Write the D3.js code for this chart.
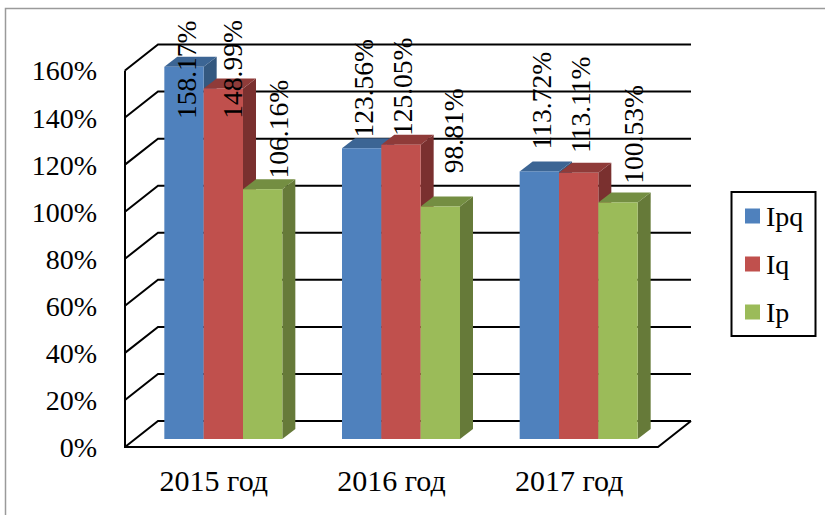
<!DOCTYPE html>
<html>
<head>
<meta charset="utf-8">
<script src="https://cdnjs.cloudflare.com/ajax/libs/d3/7.8.5/d3.min.js"></script>
<style>
html, body { margin: 0; padding: 0; background: #fff; }
svg { display: block; }
text { font-family: "Liberation Serif", serif; fill: #000; }
</style>
</head>
<body>
<svg id="chart" width="825" height="515"></svg>
<script>
// data
var categories = ["2015 год", "2016 год", "2017 год"];
var seriesNames = ["Ipq", "Iq", "Ip"];
var ipq = [158.17, 123.56, 113.72];
var iq = [148.99, 125.05, 113.11];
var ip = [106.16, 98.81, 100.53];
var yTicks = [0, 20, 40, 60, 80, 100, 120, 140, 160];

var seriesValues = [ipq, iq, ip];
var faceColors = ["#4f81bd", "#c0504d", "#9bbb59"];
var topColors = ["#3c6594", "#8f3b39", "#748e42"];
var sideColors = ["#34587f", "#7a302f", "#667a39"];

// the labels were dragged by hand in the original, per series then per category
var labelShiftX = [[11.7, 11, 11.3], [18.4, 10.7, 11], [25, 22.3, 24.7]];
var labelRaise = [[-3, 60, 70.7], [19, 58, 68], [60, 75.7, 68]];

var svg = d3.select("#chart");

// front plane of the 3d box and how far the back wall is pushed
var wallDx = 33, wallDy = -26;
var barDx = 13, barDy = -10;
var barLift = 8;

var x0 = d3.scaleBand().domain(categories).range([125, 658]);
var x1 = d3.scaleBand().domain(seriesNames).range([-49.5, 68.5]);
var y = d3.scaleLinear().domain([0, 160]).range([447, 70.5]);

// outer frame
svg.append("path")
    .attr("d", "M5.5,515V8.5H825")
    .attr("fill", "none")
    .attr("stroke", "#9a9a9a")
    .attr("stroke-width", 1.5);

// grid on the walls
var grid = svg.append("g").attr("fill", "none").attr("stroke", "#000").attr("stroke-width", 2);
grid.selectAll("path.wall")
    .data(yTicks)
    .enter()
    .append("path")
    .attr("class", "wall")
    .attr("d", function(d) {
        var yy = y(d);
        return "M125," + yy + "L" + (125 + wallDx) + "," + (yy + wallDy) + "H" + (658 + wallDx);
    });
grid.append("path")
    .attr("d", "M125," + y(160) + "V" + y(0) + "H658L" + (658 + wallDx) + "," + (y(0) + wallDy));

// bars
var groups = svg.selectAll("g.cat")
    .data(categories)
    .enter()
    .append("g")
    .attr("class", "cat");

seriesNames.forEach(function(name, s) {
    groups.each(function(cat, c) {
        var g = d3.select(this);
        var v = seriesValues[s][c];
        var left = x0(cat) + x0.bandwidth() / 2 + x1(name);
        var w = x1.bandwidth();
        var top = y(v) - barLift;
        var base = y(0) - barLift;
        g.append("path")
            .attr("fill", sideColors[s])
            .attr("d", "M" + (left + w) + "," + top + "l" + barDx + "," + barDy + "V" + (base + barDy) + "l" + (-barDx) + "," + (-barDy) + "Z");
        g.append("path")
            .attr("fill", topColors[s])
            .attr("d", "M" + left + "," + top + "l" + barDx + "," + barDy + "h" + w + "l" + (-barDx) + "," + (-barDy) + "Z");
        g.append("rect")
            .attr("x", left)
            .attr("y", top)
            .attr("width", w)
            .attr("height", base - top)
            .attr("fill", faceColors[s]);
    });
});

// value labels, rotated
var labels = svg.append("g").attr("class", "labels");
seriesNames.forEach(function(name, s) {
    categories.forEach(function(cat, c) {
        var v = seriesValues[s][c];
        var left = x0(cat) + x0.bandwidth() / 2 + x1(name);
        var mid = y(v) - barLift - labelRaise[s][c];
        labels.append("text")
            .attr("transform", "translate(" + (left + x1.bandwidth() / 2 + labelShiftX[s][c]) + "," + mid + ") rotate(-90)")
            .attr("text-anchor", "middle")
            .attr("font-size", 27.5)
            .text(v.toFixed(2) + "%");
    });
});

// axes
var yAxis = svg.append("g")
    .attr("transform", "translate(97,0.5)")
    .call(d3.axisLeft(y).tickValues(yTicks).tickSize(0).tickPadding(0).tickFormat(function(d) { return d + "%"; }));
yAxis.select(".domain").remove();
yAxis.selectAll("text").attr("font-size", 28);

var xAxis = svg.append("g")
    .attr("transform", "translate(0,470)")
    .call(d3.axisBottom(x0).tickSize(0).tickPadding(0));
xAxis.select(".domain").remove();
xAxis.selectAll("text").attr("font-size", 30);

// legend
var legend = svg.append("g").attr("transform", "translate(731.5,192)");
legend.append("rect")
    .attr("width", 84)
    .attr("height", 144)
    .attr("fill", "#fff")
    .attr("stroke", "#000")
    .attr("stroke-width", 2);
var legendY = d3.scalePoint().domain(seriesNames).range([24, 120]);
seriesNames.forEach(function(name, s) {
    legend.append("rect")
        .attr("x", 13.5)
        .attr("y", legendY(name) - 7.5)
        .attr("width", 15)
        .attr("height", 15)
        .attr("fill", faceColors[s]);
    legend.append("text")
        .attr("x", 34.5)
        .attr("y", legendY(name) + 10)
        .attr("font-size", 28)
        .text(name);
});
</script>
</body>
</html>
